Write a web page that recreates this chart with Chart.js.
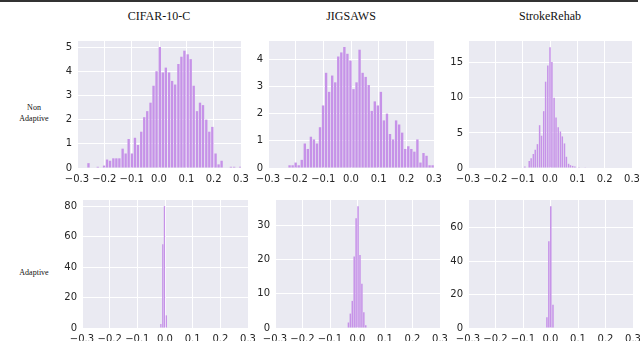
<!DOCTYPE html>
<html>
<head>
<meta charset="utf-8">
<script src="https://cdn.jsdelivr.net/npm/chart.js@4.4.0/dist/chart.umd.min.js"></script>
<style>
body { margin: 0; width: 640px; height: 341px; background: #fff; position: relative; overflow: hidden; font-family: "Liberation Serif", serif; }
.topline { position: absolute; left: 0; top: 0; width: 638px; height: 2px; background: #333; }
.col { position: absolute; top: 9px; font-size: 12px; color: #111; transform: translateX(-50%); white-space: nowrap; }
.row { position: absolute; font-size: 8px; color: #111; text-align: center; transform: translate(-50%, -50%); line-height: 11px; white-space: nowrap; }
.panel { position: absolute; }
</style>
</head>
<body>
<div class="topline"></div>
<div class="col" style="left:159px">CIFAR-10-C</div>
<div class="col" style="left:351px">JIGSAWS</div>
<div class="col" style="left:550px">StrokeRehab</div>
<div class="row" style="left:34px;top:113px">Non<br>Adaptive</div>
<div class="row" style="left:34px;top:272px">Adaptive</div>

<script>
const xTicks = [-0.3, -0.2, -0.1, 0, 0.1, 0.2, 0.3];

// CIFAR-10-C, non adaptive
const cifarNonBins = [-0.258, -0.247, -0.235, -0.224, -0.213, -0.201, -0.190, -0.179, -0.167, -0.156,
  -0.145, -0.133, -0.122, -0.111, -0.099, -0.088, -0.077, -0.065, -0.054, -0.043,
  -0.031, -0.020, -0.009, 0.003, 0.014, 0.025, 0.037, 0.048, 0.059, 0.071,
  0.082, 0.093, 0.105, 0.116, 0.127, 0.139, 0.150, 0.161, 0.173, 0.184,
  0.195, 0.207, 0.218, 0.229, 0.241, 0.252, 0.263, 0.275, 0.286, 0.297];
const cifarNonVals = [0.2, 0, 0, 0.05, 0, 0.1, 0.35, 0.3, 0.4, 0.4,
  0.4, 0.8, 0.6, 1.2, 0.6, 1.25, 0.95, 1.5, 2.1, 2.35,
  2.7, 3.4, 4.0, 5.0, 3.95, 4.15, 3.95, 3.6, 3.45, 4.3,
  4.6, 4.85, 4.7, 4.5, 3.4, 2.35, 2.7, 2.6, 2.0, 1.5,
  1.7, 0.6, 0.15, 0.3, 0, 0, 0.05, 0.05, 0, 0.05];

// JIGSAWS, non adaptive
const jigNonBins = [-0.222, -0.211, -0.200, -0.189, -0.178, -0.167, -0.156, -0.145, -0.134, -0.123,
  -0.112, -0.101, -0.090, -0.079, -0.068, -0.057, -0.046, -0.035, -0.024, -0.013,
  -0.002, 0.009, 0.020, 0.031, 0.042, 0.053, 0.064, 0.075, 0.086, 0.097,
  0.108, 0.119, 0.130, 0.141, 0.152, 0.163, 0.174, 0.185, 0.196, 0.207,
  0.218, 0.229, 0.240, 0.251, 0.262, 0.273, 0.284, 0.295];
const jigNonVals = [0.1, 0.1, 0.2, 0.1, 0.3, 0.9, 0.7, 1.15, 1.05, 0.9,
  1.5, 2.3, 3.5, 2.8, 3.4, 3.15, 4.1, 4.25, 4.45, 4.2,
  3.95, 2.9, 3.15, 4.35, 3.5, 3.35, 3.05, 2.1, 2.45, 2.3,
  2.8, 1.75, 2.0, 1.25, 1.05, 1.75, 1.6, 1.3, 0.7, 0.8,
  0.7, 0.6, 1.05, 0.2, 0.55, 0.45, 0.1, 0.1];

// StrokeRehab, non adaptive
const strokeNonBins = [-0.092, -0.084, -0.076, -0.069, -0.061, -0.054, -0.046, -0.038, -0.031, -0.023,
  -0.016, -0.008, 0.000, 0.007, 0.015, 0.022, 0.030, 0.038, 0.045, 0.053,
  0.060, 0.068, 0.075, 0.083, 0.091, 0.098, 0.106, 0.113, 0.121, 0.129];
const strokeNonVals = [0.2, 0, 1.0, 1.4, 2.0, 2.6, 3.4, 6.1, 4.6, 8.1,
  12.3, 14.6, 17.2, 15.1, 10.0, 7.2, 5.8, 5.2, 4.5, 3.5,
  1.6, 0.6, 0.4, 0.3, 0.2, 0, 0.1, 0, 0, 0.05];

// adaptive
const cifarAdaBins = [-0.015, -0.008, -0.002, 0.005];
const cifarAdaVals = [2.6, 55, 80, 8.3];
const jigAdaBins = [-0.033, -0.026, -0.019, -0.012, -0.005, 0.002, 0.009, 0.016, 0.023, 0.030];
const jigAdaVals = [1.6, 4.2, 7.9, 20.8, 32, 35.5, 21.3, 12.9, 4.6, 0.8];
const strokeAdaBins = [-0.013, -0.006, 0.001, 0.009];
const strokeAdaVals = [6.5, 51.9, 72.9, 13.9];

const panels = [
  { bins: cifarNonBins, vals: cifarNonVals, yMax: 5.25, yTicks: [0, 1, 2, 3, 4, 5], box: [77, 41, 241, 168] },
  { bins: jigNonBins, vals: jigNonVals, yMax: 4.67, yTicks: [0, 1, 2, 3, 4], box: [268, 41, 434, 168] },
  { bins: strokeNonBins, vals: strokeNonVals, yMax: 18.1, yTicks: [0, 5, 10, 15], box: [468, 41, 632, 168] },
  { bins: cifarAdaBins, vals: cifarAdaVals, yMax: 84, yTicks: [0, 20, 40, 60, 80], box: [82, 200, 248, 328] },
  { bins: jigAdaBins, vals: jigAdaVals, yMax: 37.3, yTicks: [0, 10, 20, 30], box: [275, 200, 440, 328] },
  { bins: strokeAdaBins, vals: strokeAdaVals, yMax: 76.6, yTicks: [0, 20, 40, 60], box: [468, 200, 633, 328] }
];

const plotBg = {
  id: 'plotBg',
  beforeDraw(chart) {
    const { ctx, chartArea: a } = chart;
    ctx.save();
    ctx.fillStyle = '#eaeaf2';
    ctx.fillRect(a.left, a.top, a.right - a.left, a.bottom - a.top);
    ctx.restore();
  }
};

const YW = 24, PT = 6, PR = 14, XH = 18;
const tickFont = { family: 'DejaVu Sans', size: 10 };
const fmtX = v => (v < -1e-9 ? '\u2212' : '') + Math.abs(v).toFixed(1);

panels.forEach((p, k) => {
  const [l, t, r, b] = p.box;
  const div = document.createElement('div');
  div.className = 'panel';
  div.style.left = (l - YW) + 'px';
  div.style.top = (t - PT) + 'px';
  div.style.width = (r - l + YW + PR) + 'px';
  div.style.height = (b - t + PT + XH) + 'px';
  const cv = document.createElement('canvas');
  div.appendChild(cv);
  document.body.appendChild(div);

  new Chart(cv.getContext('2d'), {
    type: 'bar',
    data: {
      datasets: [{
        data: p.bins.map((c, i) => ({ x: c, y: p.vals[i] })),
        backgroundColor: 'rgb(198,146,232)',
        borderWidth: 0,
        barPercentage: 0.78,
        categoryPercentage: 1
      }]
    },
    options: {
      animation: false,
      responsive: true,
      maintainAspectRatio: false,
      layout: { padding: { top: PT, right: PR, left: 0, bottom: 0 } },
      plugins: { legend: { display: false }, tooltip: { enabled: false } },
      scales: {
        x: {
          type: 'linear', min: -0.3, max: 0.3, offset: false,
          grid: { color: '#ffffff', lineWidth: 1, drawTicks: false, offset: false },
          border: { display: false },
          ticks: { font: tickFont, color: '#262626', padding: 5, maxRotation: 0, autoSkip: false, callback: fmtX },
          afterBuildTicks: s => { s.ticks = xTicks.map(v => ({ value: v })); },
          afterFit: s => { s.height = XH; s.paddingLeft = 0; s.paddingRight = 0; }
        },
        y: {
          min: 0, max: p.yMax,
          grid: { color: '#ffffff', lineWidth: 1, drawTicks: false },
          border: { display: false },
          ticks: { font: tickFont, color: '#262626', padding: 5, autoSkip: false },
          afterBuildTicks: s => { s.ticks = p.yTicks.map(v => ({ value: v })); },
          afterFit: s => { s.width = YW; s.paddingTop = 0; s.paddingBottom = 0; }
        }
      }
    },
    plugins: [plotBg]
  });
});
</script>
</body>
</html>
